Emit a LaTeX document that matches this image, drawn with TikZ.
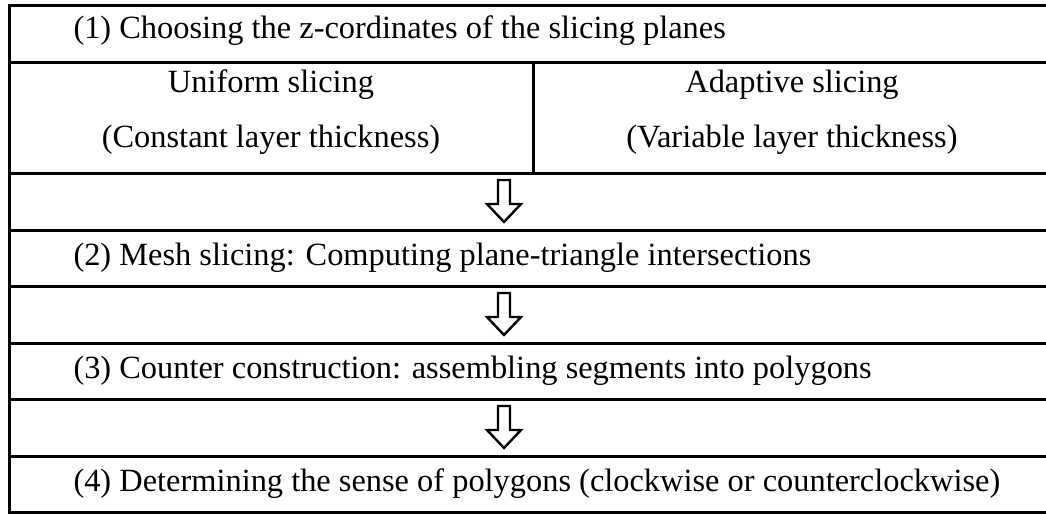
\documentclass[tikz,border=0pt]{standalone}
\usepackage{fontspec}
\setmainfont{Liberation Serif}
\begin{document}
\begin{tikzpicture}[x=0.5pt,y=-0.5pt,line width=1.5pt]
  \tikzset{steptext/.style={anchor=base west,inner sep=0pt,font=\fontsize{16.2}{19}\selectfont},
    celltext/.style={anchor=base,inner sep=0pt,font=\fontsize{16.2}{19}\selectfont},
    downarrow/.style={line width=1.2pt,line join=miter}}
  \useasboundingbox (0,0) rectangle (1046,514);
  % table frame and rules
  \draw (1046,5) -- (9,5) -- (9,512) -- (1046,512);
  \foreach \y in {62,173,230,286,343,399,456}
    \draw (9,\y) -- (1046,\y);
  \draw (533,62) -- (533,173);
  % hollow arrows between the steps
  \foreach \t in {173,286,399}
    \draw [downarrow] (498,\t+7) -- (510,\t+7) -- (510,\t+31) -- (521,\t+31)
      -- (504,\t+49) -- (487,\t+31) -- (498,\t+31) -- cycle;
  \node[steptext] (s1) at (72,39) {(1) Choosing the z-cordinates of the slicing planes};
  \node[celltext] (u1) at (271,92) {Uniform slicing};
  \node[celltext] (u2) at (271,147) {(Constant layer thickness)};
  \node[celltext] (a1) at (792,92) {Adaptive slicing};
  \node[celltext] (a2) at (792,147) {(Variable layer thickness)};
  \node[steptext] (s2) at (72,265) {(2) Mesh slicing: Computing plane-triangle intersections};
  \node[steptext] (s3) at (72,378) {(3) Counter construction: assembling segments into polygons};
  \node[steptext] (s4) at (72,491) {(4) Determining the sense of polygons (clockwise or counterclockwise)};
\end{tikzpicture}
\end{document}
